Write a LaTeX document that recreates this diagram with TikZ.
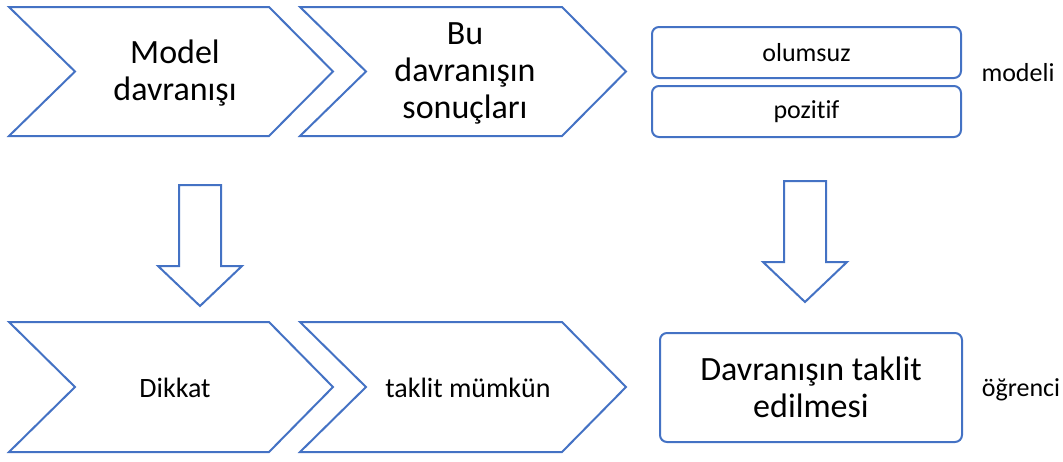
\documentclass[tikz,border=0pt]{standalone}
\usepackage{fontspec}
\setmainfont{Carlito}[Ligatures={NoCommon}]
\usepackage{tikz}
\usetikzlibrary{positioning}
\definecolor{OfficeBlue}{HTML}{4472C4}

\tikzset{
  shapeline/.style={draw=OfficeBlue, line width=2pt, line join=miter, fill=white},
  bigtext/.style={align=center, font=\fontsize{34}{37}\selectfont},
  midtext/.style={align=center, font=\fontsize{28}{32}\selectfont},
  smalltext/.style={align=center, font=\fontsize{26}{30}\selectfont},
  roundbox/.style={shapeline, rounded corners=7pt},
}

% chevron: left x, top y, right x of the flat top, height
\newcommand{\chevronshape}[4]{%
  \draw[shapeline] (#1,#2) -- (#3,#2) -- ++(64,#4/2) -- ++(-64,#4/2)
    -- (#1,#2+#4) -- ++(66,-#4/2) -- cycle;}

% block arrow pointing down: centre x, top y, shaft bottom y, tip y
\newcommand{\downblock}[4]{%
  \draw[shapeline] (#1-21,#2) -- (#1+21,#2) -- (#1+21,#3) -- (#1+42,#3)
    -- (#1,#4) -- (#1-42,#3) -- (#1-21,#3) -- cycle;}

\begin{document}
\begin{tikzpicture}[x=1pt,y=-1pt]
  \useasboundingbox (0,0) rectangle (1063,461);

  % top row
  \chevronshape{9}{7}{269}{129}
  \chevronshape{300}{7}{562}{129}
  \node[bigtext] (model) at (175,73) {Model\\davranışı};
  \node[bigtext] (sonuc) at (465,73) {Bu\\davranışın\\sonuçları};

  \node[roundbox, minimum width=309pt, minimum height=51pt,
        smalltext] (olumsuz) at (806.5,52.5) {olumsuz};
  \node[roundbox, minimum width=309pt, minimum height=51pt,
        smalltext] (pozitif) at (806.5,111.5) {pozitif};
  \node[smalltext] (modeli) at (1018,73) {modeli};

  % arrows down
  \downblock{200}{185}{266}{306}
  \downblock{805}{181}{262}{302}

  % bottom row
  \chevronshape{9}{322}{269}{130}
  \chevronshape{300}{322}{562}{130}
  \node[midtext] (dikkat) at (175,388) {Dikkat};
  \node[midtext] (taklit) at (468,388) {taklit mümkün};

  \node[roundbox, minimum width=302pt, minimum height=109pt,
        bigtext] (edilme) at (811,387.5) {Davranışın taklit\\edilmesi};
  \node[smalltext] (ogrenci) at (1021,390) {öğrenci};
\end{tikzpicture}
\end{document}
